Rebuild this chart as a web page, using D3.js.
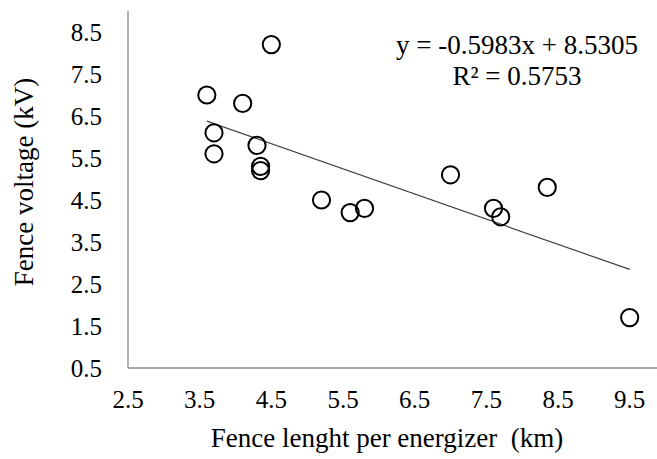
<!DOCTYPE html>
<html><head><meta charset="utf-8">
<script src="https://cdn.jsdelivr.net/npm/d3@7"></script>
<style>body{margin:0;background:#fff}svg{display:block}</style>
</head><body><svg id="c" width="657" height="459"></svg>
<script>
const xValues = [4.5, 3.6, 4.1, 3.7, 3.7, 4.3, 4.35, 4.35, 5.2, 5.6, 5.8, 7.0, 7.6, 7.7, 8.35, 9.5];
const yValues = [8.2, 7.0, 6.8, 6.1, 5.6, 5.8, 5.3, 5.2, 4.5, 4.2, 4.3, 5.1, 4.3, 4.1, 4.8, 1.7];
const xTicks = [2.5, 3.5, 4.5, 5.5, 6.5, 7.5, 8.5, 9.5];
const yTicks = [0.5, 1.5, 2.5, 3.5, 4.5, 5.5, 6.5, 7.5, 8.5];
const slope = -0.5983, intercept = 8.5305;
const eqLines = ["y = -0.5983x + 8.5305", "R² = 0.5753"];
const xTitle = "Fence lenght per energizer  (km)";
const yTitle = "Fence voltage (kV)";
const FONT = "'Liberation Serif', 'Times New Roman', serif";

const svg = d3.select("#c");
const x = d3.scaleLinear().domain([2.5, 10]).range([128, 665.5]);
const y = d3.scaleLinear().domain([0.5, 9.0]).range([368, 11]);

svg.append("line").attr("x1", x(2.5)).attr("x2", 657).attr("y1", y(0.5)).attr("y2", y(0.5)).attr("stroke", "#8c8c8c").attr("stroke-width", 1.3);
svg.append("line").attr("x1", x(2.5)).attr("x2", x(2.5)).attr("y1", y(0.5)).attr("y2", y(9.0)).attr("stroke", "#8c8c8c").attr("stroke-width", 1.3);

svg.append("g").selectAll("text").data(xTicks).join("text")
  .style("font-family", FONT).style("font-size", "25px")
  .attr("x", d => x(d)).attr("y", 408).attr("text-anchor", "middle")
  .text(d => d.toFixed(1));
svg.append("g").selectAll("text").data(yTicks).join("text")
  .style("font-family", FONT).style("font-size", "25px")
  .attr("x", 102).attr("y", d => y(d) + 8.5).attr("text-anchor", "end")
  .text(d => d.toFixed(1));

const xmin = d3.min(xValues), xmax = d3.max(xValues);
svg.append("line").attr("x1", x(xmin)).attr("y1", y(slope * xmin + intercept))
  .attr("x2", x(xmax)).attr("y2", y(slope * xmax + intercept))
  .attr("stroke", "#404040").attr("stroke-width", 1.2);

svg.append("g").selectAll("circle").data(xValues.map((v, i) => [v, yValues[i]])).join("circle")
  .attr("cx", d => x(d[0])).attr("cy", d => y(d[1])).attr("r", 8.6)
  .attr("fill", "none").attr("stroke", "#000").attr("stroke-width", 2);

svg.append("g").selectAll("text").data(eqLines).join("text")
  .style("font-family", FONT).style("font-size", "27px").style("white-space", "pre")
  .attr("x", 517).attr("y", (d, i) => 54 + i * 31).attr("text-anchor", "middle")
  .text(d => d);

svg.append("text").style("font-family", FONT).style("font-size", "27px").style("white-space", "pre")
  .attr("x", 387).attr("y", 447).attr("text-anchor", "middle").text(xTitle);
svg.append("text").style("font-family", FONT).style("font-size", "27px")
  .attr("transform", "translate(33,182) rotate(-90)").attr("text-anchor", "middle").text(yTitle);
</script></body></html>
